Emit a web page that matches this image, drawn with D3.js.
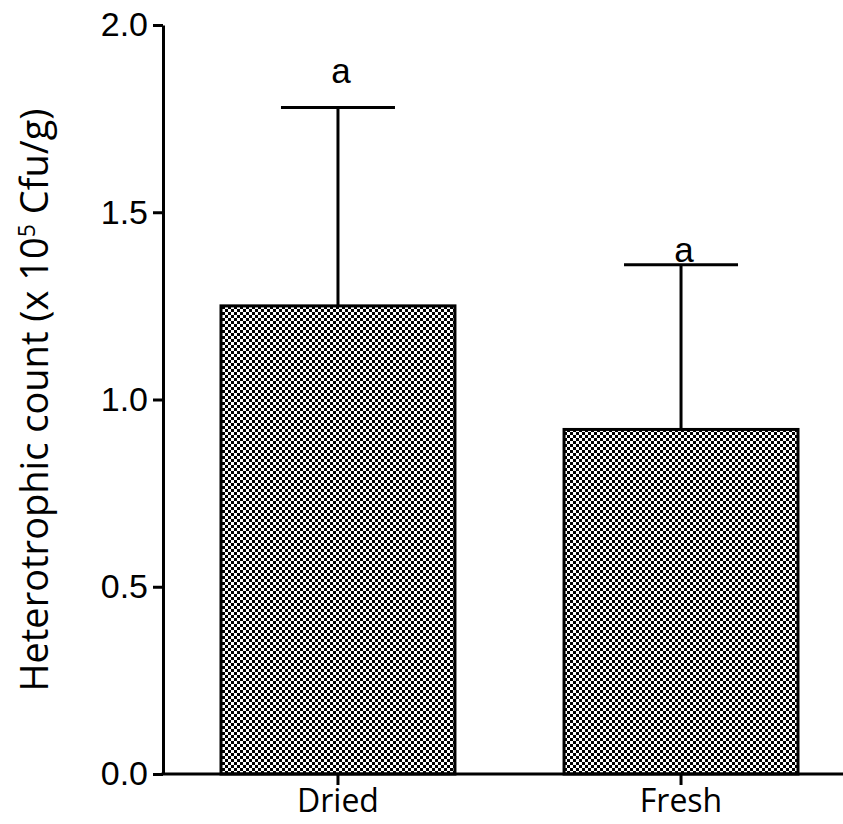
<!DOCTYPE html>
<html>
<head>
<meta charset="utf-8">
<script src="https://cdn.jsdelivr.net/npm/d3@7"></script>
<style>
  body { margin: 0; background: #fff; }
  svg { display: block; }
</style>
</head>
<body>
<svg width="843" height="824"></svg>
<script>
// data
var groups = ["Dried", "Fresh"];
var means = [1.25, 0.92];
var errTop = [1.78, 1.36];
var letters = ["a", "a"];
var yTicks = [0.0, 0.5, 1.0, 1.5, 2.0];

var svg = d3.select("svg");

var y = d3.scaleLinear().domain([0, 2]).range([774, 25]);
var x = d3.scaleBand().domain(groups).range([221, 798]).paddingInner(0.318);

// checker fill like the prism hatch
var pat = svg.append("defs").append("pattern")
  .attr("id", "chk")
  .attr("patternUnits", "userSpaceOnUse")
  .attr("width", 6).attr("height", 6);
pat.append("rect").attr("width", 6).attr("height", 6).attr("fill", "#fff");
pat.append("rect").attr("width", 3).attr("height", 3).attr("fill", "#000");
pat.append("rect").attr("x", 3).attr("y", 3).attr("width", 3).attr("height", 3).attr("fill", "#000");

// bars
svg.selectAll("rect.bar")
  .data(groups)
  .join("rect")
  .attr("class", "bar")
  .attr("x", d => x(d))
  .attr("y", (d, i) => y(means[i]))
  .attr("width", x.bandwidth())
  .attr("height", (d, i) => y(0) - y(means[i]))
  .attr("fill", "url(#chk)")
  .attr("stroke", "#000")
  .attr("stroke-width", 3);

// error bars (upper only)
var capW = 57;
var eb = svg.selectAll("g.err").data(groups).join("g").attr("class", "err");
eb.append("line")
  .attr("x1", d => x(d) + x.bandwidth() / 2)
  .attr("x2", d => x(d) + x.bandwidth() / 2)
  .attr("y1", (d, i) => y(means[i]))
  .attr("y2", (d, i) => y(errTop[i]))
  .attr("stroke", "#000").attr("stroke-width", 3);
eb.append("line")
  .attr("x1", d => x(d) + x.bandwidth() / 2 - capW)
  .attr("x2", d => x(d) + x.bandwidth() / 2 + capW)
  .attr("y1", (d, i) => y(errTop[i]))
  .attr("y2", (d, i) => y(errTop[i]))
  .attr("stroke", "#000").attr("stroke-width", 3);

// significance letters
var letterOff = [24, 3];
svg.selectAll("text.sig")
  .data(groups)
  .join("text")
  .attr("class", "sig")
  .attr("x", d => x(d) + x.bandwidth() / 2 + 3)
  .attr("y", (d, i) => y(errTop[i]) - letterOff[i])
  .attr("text-anchor", "middle")
  .attr("font-family", "Liberation Sans, Arial, sans-serif")
  .attr("font-size", 35)
  .text((d, i) => letters[i]);

// y axis
var yAxis = svg.append("g")
  .attr("transform", "translate(163,0)")
  .call(d3.axisLeft(y).tickValues(yTicks).tickFormat(d3.format(".1f")).tickSize(10).tickSizeOuter(0));
yAxis.select(".domain").attr("stroke-width", 3);
yAxis.selectAll(".tick line").attr("stroke-width", 3);
yAxis.selectAll(".tick text")
  .attr("font-family", "Liberation Sans, Arial, sans-serif")
  .attr("font-size", 34)
  .attr("fill", "#000")
  .attr("x", -15);

// x axis
var xAxis = svg.append("g")
  .attr("transform", "translate(0,774)")
  .call(d3.axisBottom(x).tickSize(11).tickSizeOuter(0));
xAxis.select(".domain").remove();
xAxis.append("line")
  .attr("x1", 161.5).attr("x2", 843)
  .attr("stroke", "#000").attr("stroke-width", 3);
xAxis.selectAll(".tick line").attr("stroke-width", 3);
xAxis.selectAll(".tick text")
  .attr("font-family", "Open Sans, sans-serif")
  .attr("font-size", 32)
  .attr("fill", "#000")
  .attr("dy", null)
  .attr("y", 38);

// y title
var title = svg.append("text")
  .attr("transform", "translate(48,400) rotate(-90)")
  .attr("text-anchor", "middle")
  .attr("font-family", "Open Sans, sans-serif")
  .attr("font-size", 38)
  .attr("fill", "#000");
title.append("tspan").text("Heterotrophic count (x 10");
title.append("tspan").attr("dy", -13).attr("font-size", 23).text("5");
title.append("tspan").attr("dy", 13).text(" Cfu/g)");
</script>
</body>
</html>
